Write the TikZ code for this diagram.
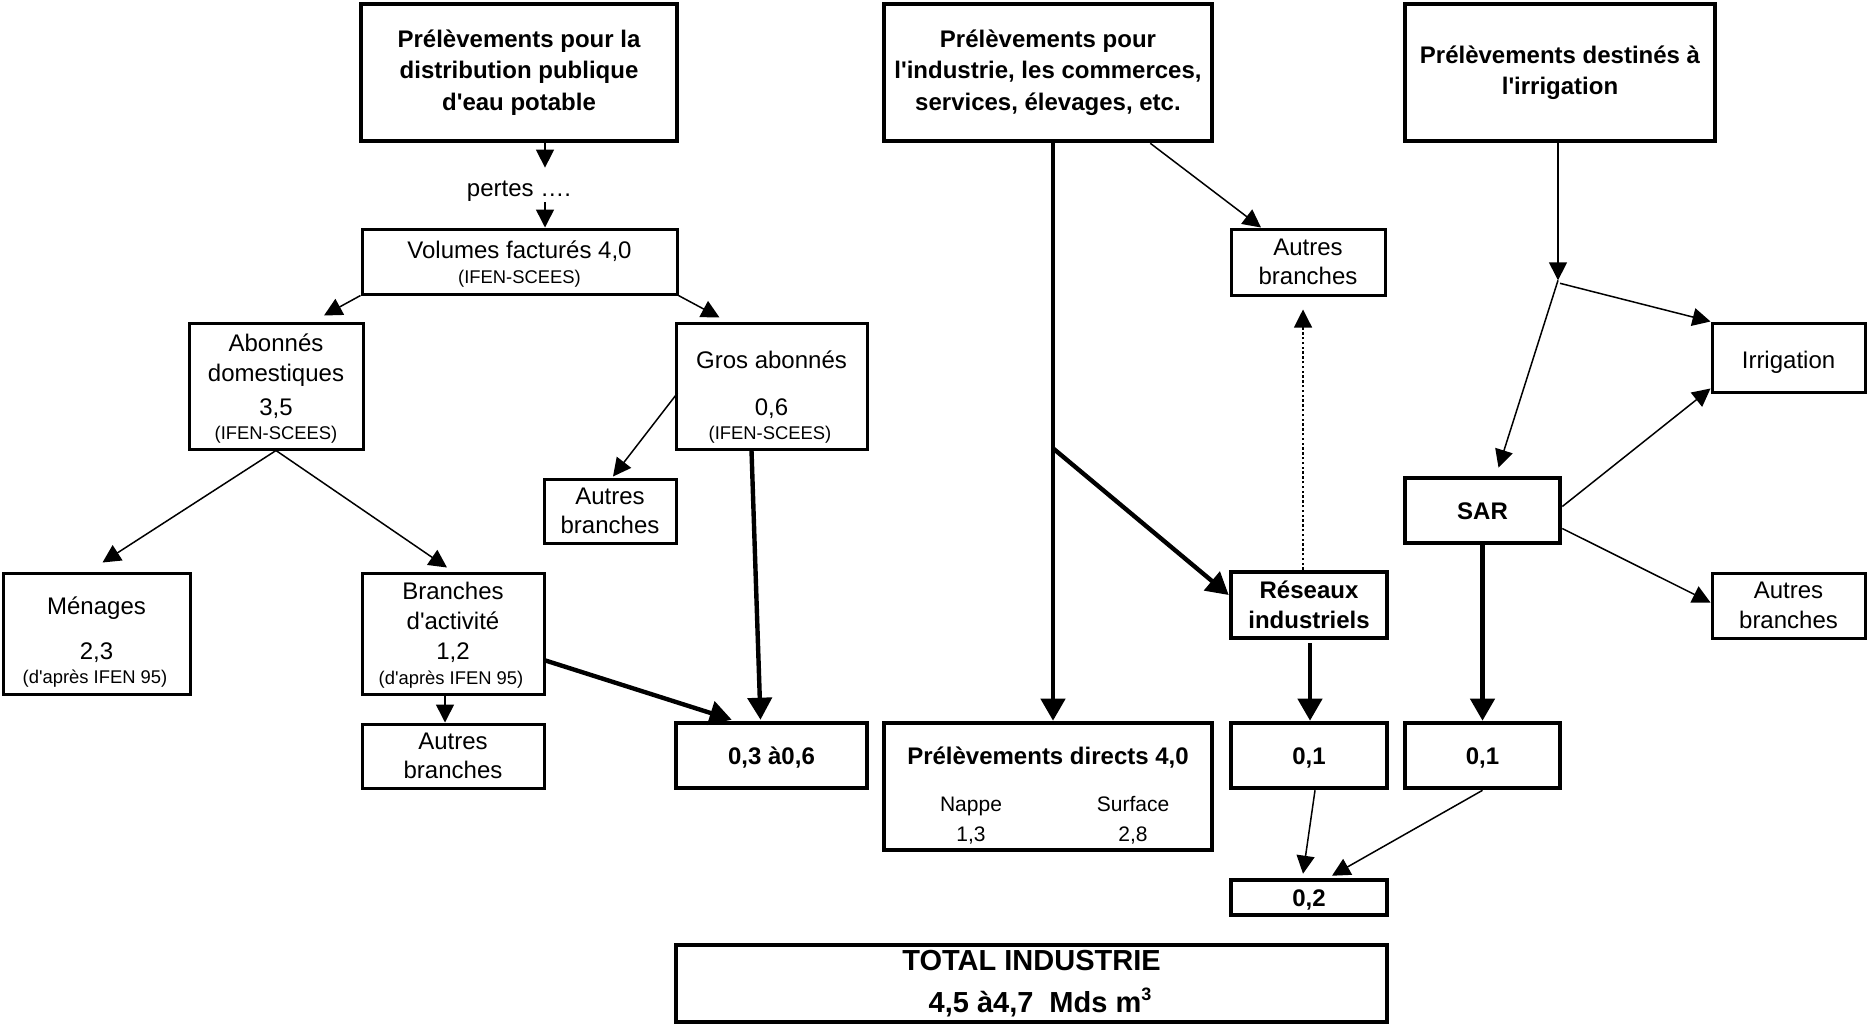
\documentclass[tikz,border=0pt]{standalone}
\usepackage{fontspec}
\setmainfont{Liberation Sans}
\usetikzlibrary{arrows.meta,calc}
\newcommand{\ap}{\textquotesingle}
\begin{document}
\begin{tikzpicture}[x=0.5pt,y=-0.5pt,
  thickbox/.style={draw, line width=2.3pt, inner sep=0pt, align=center},
  medbox/.style={draw, line width=1.5pt, inner sep=0pt, align=center},
  thinarr/.style={line width=0.75pt, -{Triangle[length=9pt,width=9pt]}},
  thickarr/.style={line width=2.2pt, -{Triangle[length=11pt,width=12pt]}},
  dotarr/.style={line width=0.6pt, dash pattern=on 1.2pt off 1.2pt, -{Triangle[length=9pt,width=9pt]}},
  txt/.style={inner sep=0pt, anchor=base},
  oneline/.style={text height=8.6pt, text depth=0pt},
  reg/.style={font=\fontsize{12}{14.8}\selectfont},
  bld/.style={font=\bfseries\fontsize{12}{14.8}\selectfont},
  hdr/.style={font=\bfseries\fontsize{12}{15.7}\selectfont},
  sml/.style={font=\fontsize{9.2}{11}\selectfont},
  mid/.style={font=\fontsize{10.5}{12}\selectfont},
  big/.style={font=\bfseries\fontsize{14.5}{17}\selectfont}]
\useasboundingbox (0,0) rectangle (1867,1024);

% ---- boxes ----
\node[thickbox, hdr, minimum width=158pt, minimum height=68.5pt] (A) at (519,72.5)
  {Prélèvements pour la\\distribution publique\\d\ap eau potable};
\node[thickbox, hdr, minimum width=164pt, minimum height=68.5pt] (B) at (1048,72.5)
  {Prélèvements pour\\l\ap industrie, les commerces,\\services, élevages, etc.};
\node[thickbox, hdr, minimum width=155pt, minimum height=68.5pt] (C) at (1560,72.5)
  {Prélèvements destinés à\\l\ap irrigation};

\node[reg, inner xsep=0pt, inner ysep=2.7pt, text height=11.6pt, text depth=0pt] (pertes) at (519,185) {pertes ….};

\node[medbox, minimum width=157.5pt, minimum height=32.5pt] (vol) at (519.5,261.5) {};
\node[medbox, minimum width=87pt, minimum height=63pt] (abon) at (276,386) {};
\node[medbox, minimum width=95.5pt, minimum height=63pt] (gros) at (771.5,386) {};
\node[medbox, reg, minimum width=66pt, minimum height=32pt] (aut1) at (610,511) {Autres\\branches};
\node[medbox, minimum width=93.5pt, minimum height=60.5pt] (men) at (96.5,633.5) {};
\node[medbox, minimum width=91pt, minimum height=60.5pt] (bra) at (453,633.5) {};
\node[medbox, reg, minimum width=91pt, minimum height=32pt] (aut2) at (453,756) {Autres\\branches};
\node[thickbox, bld, oneline, minimum width=95.5pt, minimum height=32.5pt] (z36) at (771.5,755.5) {0,3 à0,6};
\node[thickbox, minimum width=164pt, minimum height=63.5pt] (pd) at (1048,786.5) {};
\node[thickbox, bld, oneline, minimum width=78pt, minimum height=32.5pt] (z01a) at (1309,755.5) {0,1};
\node[thickbox, bld, oneline, minimum width=77.5pt, minimum height=32.5pt] (z01b) at (1482.5,755.5) {0,1};
\node[thickbox, bld, oneline, minimum width=78pt, minimum height=17.5pt] (z02) at (1309,897.5) {0,2};
\node[thickbox, minimum width=355.5pt, minimum height=38.5pt] (tot) at (1031.5,983.5) {};
\node[medbox, reg, minimum width=77pt, minimum height=33pt] (aut3) at (1308,262) {Autres\\branches};
\node[thickbox, bld, minimum width=78pt, minimum height=33pt] (res) at (1309,605) {Réseaux\\industriels};
\node[medbox, reg, minimum width=76.5pt, minimum height=34.5pt, text height=10.6pt, text depth=0pt] (irr) at (1788.5,357.5) {Irrigation};
\node[medbox, reg, minimum width=76.5pt, minimum height=32.5pt] (aut4) at (1788.5,605.5) {Autres\\branches};
\node[thickbox, bld, oneline, minimum width=77.5pt, minimum height=32.5pt] (sar) at (1482.5,510.5) {SAR};

% ---- texts inside composite boxes ----
\node[txt, reg] (vol1) at (519.5,258.5) {Volumes facturés 4,0};
\node[txt, sml] (vol2) at (519.5,283.5) {(IFEN-SCEES)};
\node[txt, reg] (ab1) at (276,351.5) {Abonnés};
\node[txt, reg] (ab2) at (276,381.5) {domestiques};
\node[txt, reg] (ab3) at (276,415.5) {3,5};
\node[txt, sml] (ab4) at (276,439.5) {(IFEN-SCEES)};
\node[txt, reg] (gr1) at (771.5,368.5) {Gros abonnés};
\node[txt, reg] (gr2) at (771.5,415.5) {0,6};
\node[txt, sml] (gr3) at (770,439.5) {(IFEN-SCEES)};
\node[txt, reg] (me1) at (96.5,614) {Ménages};
\node[txt, reg] (me2) at (96.5,659.5) {2,3};
\node[txt, sml] (me3) at (95,683.5) {(d\ap après IFEN 95)};
\node[txt, reg] (br1) at (453,599.5) {Branches};
\node[txt, reg] (br2) at (453,629.5) {d\ap activité};
\node[txt, reg] (br3) at (453,659.5) {1,2};
\node[txt, sml] (br4) at (451,684.5) {(d\ap après IFEN 95)};
\node[txt, bld] (pd1) at (1048,764.5) {Prélèvements directs 4,0};
\node[txt, mid] (pd2) at (971,811.5) {Nappe};
\node[txt, mid] (pd3) at (1133,811.5) {Surface};
\node[txt, mid] (pd4) at (971,841) {1,3};
\node[txt, mid] (pd5) at (1133,841) {2,8};
\node[txt, big] (to1) at (1031.5,970) {TOTAL INDUSTRIE};
\node[txt, big] (to2) at (1040,1012.5) {4,5 à4,7\hspace{8pt}Mds m\raisebox{6pt}{\fontsize{9}{9}\selectfont 3}};

% ---- connectors: left part ----
\coordinate (vx) at (545,0);
\draw[thinarr] (A.south -| vx) -- (pertes.north -| vx);
\draw[thinarr] (pertes.south -| vx) -- (vol.north -| vx);
\draw[thinarr] (vol.south west) -- ($(abon.north)+(48,-6)$);
\draw[thinarr] (vol.south east) -- ($(gros.north)+(-52,-4)$);
\draw[thinarr] ($(gros.west)+(3,7)$) -- ($(aut1.north)+(3,-1)$);
\draw[thickarr] ($(gros.south)+(-20,0)$) -- ($(z36.north)+(-11,-1)$);
\draw[thinarr] (abon.south) -- ($(men.north)+(6,-9)$);
\draw[thinarr] (abon.south) -- ($(bra.north)+(-6,-4)$);
\draw[thinarr] ($(bra.south)+(-8,0)$) -- ($(aut2.north)+(-8,0)$);
\draw[thickarr] ($(bra.east)+(0,27)$) -- ($(z36.north west)+(58,-1)$);

% ---- connectors: industry ----
\draw[thickarr] ($(B.south)+(5,0)$) -- ($(pd.north)+(5,0)$);
\coordinate (bk) at ($(B.south)+(5,305)$);
\draw[thickarr] (bk) -- ($(res.west)+(0,-10)$);
\draw[thinarr] ($(B.south east)+(-64,0)$) -- ($(aut3.north)+(-47,0)$);
\draw[dotarr] ($(res.north)+(-6,0)$) -- ($(aut3.south)+(-5,13)$);
\draw[thickarr] ($(res.south)+(1,3)$) -- ($(z01a.north)+(1,0)$);

% ---- connectors: irrigation ----
\coordinate (j) at ($(C.south)+(-2,137)$);
\draw[thinarr] ($(C.south)+(-2,0)$) -- (j);
\draw[thinarr] ($(j)+(2,3)$) -- (irr.north west);
\draw[thinarr] (j) -- ($(sar.north)+(16,-8)$);
\draw[thinarr] ($(sar.east)+(0,-4)$) -- ($(irr.south west)+(0,-5)$);
\draw[thinarr] ($(sar.east)+(0,18)$) -- ($(aut4.west)+(0,-3)$);
\draw[thickarr] (sar.south) -- (z01b.north);
\draw[thinarr] ($(z01a.south)+(6,0)$) -- ($(z02.north)+(-6,-4)$);
\draw[thinarr] (z01b.south) -- ($(z02.north)+(23,-2)$);
\end{tikzpicture}
\end{document}
